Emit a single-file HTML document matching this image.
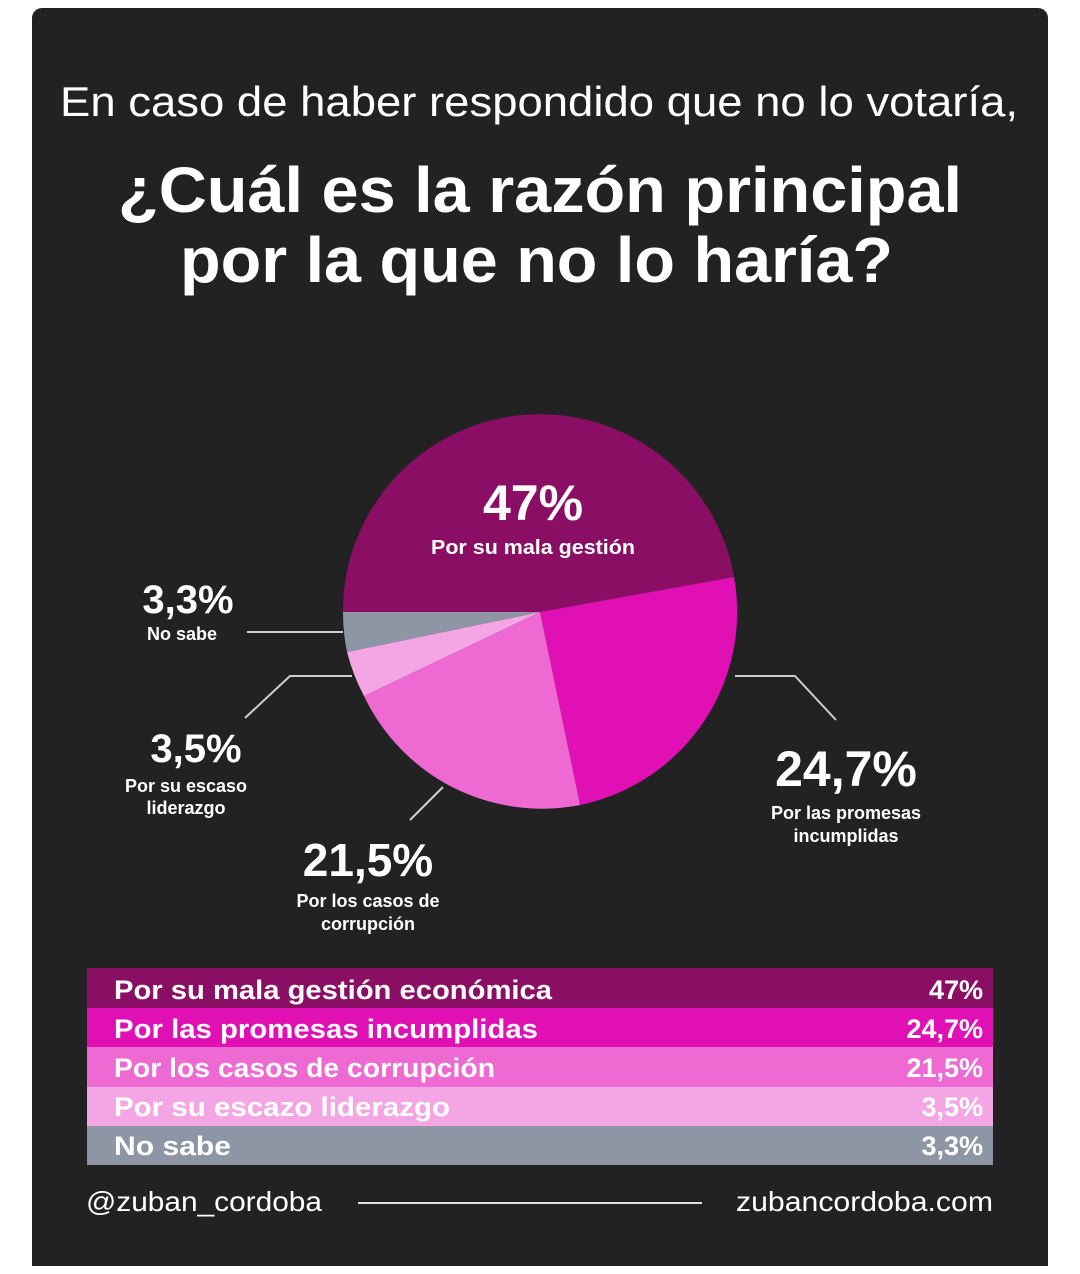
<!DOCTYPE html>
<html><head><meta charset="utf-8"><style>
html,body{margin:0;padding:0;background:#fff;}
svg{display:block;}
text{font-family:"Liberation Sans",sans-serif;fill:#fff;}
</style></head><body>
<svg width="1080" height="1274" viewBox="0 0 1080 1274" xmlns="http://www.w3.org/2000/svg">
<rect x="0" y="0" width="1080" height="1274" fill="#ffffff"/>
<rect x="32" y="8" width="1016" height="1258" rx="10" fill="#222222"/>
<rect x="32" y="1250" width="1016" height="16" fill="#222222"/>

<text x="60" y="116" font-size="42" textLength="958" lengthAdjust="spacingAndGlyphs">En caso de haber respondido que no lo votaría,</text>
<text x="118" y="212" font-size="64" font-weight="bold" textLength="844" lengthAdjust="spacingAndGlyphs">¿Cuál es la razón principal</text>
<text x="180" y="282" font-size="64" font-weight="bold" textLength="713" lengthAdjust="spacingAndGlyphs">por la que no lo haría?</text>

<!-- pie, center 540,612 r 197 -->
<path d="M540,612 L343,612 A197,197 0 0 1 734,577 Z" fill="#8a0f64"/>
<path d="M540,612 L734,577 A197,197 0 0 1 580,805 Z" fill="#e010b4"/>
<path d="M540,612 L580,805 A197,197 0 0 1 364,696 Z" fill="#ee6ad2"/>
<path d="M540,612 L364,696 A197,197 0 0 1 347,652 Z" fill="#f4a6e4"/>
<path d="M540,612 L347,652 A197,197 0 0 1 343,612 Z" fill="#8e96a6"/>

<g stroke="#cfcfcf" stroke-width="2" fill="none">
<polyline points="247,632 343,632"/>
<polyline points="245,718 290,676 352,676"/>
<polyline points="410,820 443,787"/>
<polyline points="735,676 795,676 836,720"/>
</g>

<text x="533" y="520" font-size="50" font-weight="bold" text-anchor="middle">47%</text>
<text x="533" y="554" font-size="20" font-weight="bold" text-anchor="middle" textLength="204" lengthAdjust="spacingAndGlyphs">Por su mala gestión</text>

<text x="188" y="613" font-size="40" font-weight="bold" text-anchor="middle">3,3%</text>
<text x="182" y="640" font-size="18" font-weight="bold" text-anchor="middle">No sabe</text>

<text x="196" y="762" font-size="40" font-weight="bold" text-anchor="middle">3,5%</text>
<text x="186" y="792" font-size="18" font-weight="bold" text-anchor="middle">Por su escaso</text>
<text x="186" y="814" font-size="18" font-weight="bold" text-anchor="middle">liderazgo</text>

<text x="368" y="876" font-size="46" font-weight="bold" text-anchor="middle">21,5%</text>
<text x="368" y="907" font-size="18" font-weight="bold" text-anchor="middle">Por los casos de</text>
<text x="368" y="930" font-size="18" font-weight="bold" text-anchor="middle">corrupción</text>

<text x="846" y="786" font-size="50" font-weight="bold" text-anchor="middle">24,7%</text>
<text x="846" y="819" font-size="18" font-weight="bold" text-anchor="middle">Por las promesas</text>
<text x="846" y="842" font-size="18" font-weight="bold" text-anchor="middle">incumplidas</text>

<!-- table -->
<rect x="87" y="968" width="906" height="40" fill="#8a0f64"/>
<rect x="87" y="1008" width="906" height="39" fill="#e010b4"/>
<rect x="87" y="1047" width="906" height="40" fill="#ee6ad2"/>
<rect x="87" y="1087" width="906" height="39" fill="#f4a6e4"/>
<rect x="87" y="1126" width="906" height="39" fill="#8e96a6"/>
<g font-size="27" font-weight="bold">
<text x="114" y="999" textLength="438" lengthAdjust="spacingAndGlyphs">Por su mala gestión económica</text>
<text x="114" y="1038" textLength="424" lengthAdjust="spacingAndGlyphs">Por las promesas incumplidas</text>
<text x="114" y="1077" textLength="381" lengthAdjust="spacingAndGlyphs">Por los casos de corrupción</text>
<text x="114" y="1116" textLength="336" lengthAdjust="spacingAndGlyphs">Por su escazo liderazgo</text>
<text x="114" y="1155" textLength="117" lengthAdjust="spacingAndGlyphs">No sabe</text>
<text x="983" y="999" text-anchor="end">47%</text>
<text x="983" y="1038" text-anchor="end">24,7%</text>
<text x="983" y="1077" text-anchor="end">21,5%</text>
<text x="983" y="1116" text-anchor="end">3,5%</text>
<text x="983" y="1155" text-anchor="end">3,3%</text>
</g>

<text x="86" y="1211" font-size="28" textLength="236" lengthAdjust="spacingAndGlyphs">@zuban_cordoba</text>
<line x1="358" y1="1203" x2="702" y2="1203" stroke="#e0e0e0" stroke-width="2"/>
<text x="736" y="1211" font-size="28" textLength="257" lengthAdjust="spacingAndGlyphs">zubancordoba.com</text>
</svg>
</body></html>
